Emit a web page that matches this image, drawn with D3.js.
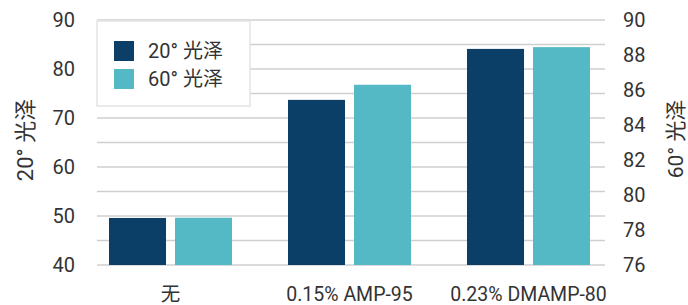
<!DOCTYPE html>
<html>
<head>
<meta charset="utf-8">
<script src="https://cdn.jsdelivr.net/npm/d3@7"></script>
<style>
  body { margin: 0; background: #fff; }
  text { font-family: Roboto, "Noto Sans CJK SC", sans-serif; fill: #333; }
</style>
</head>
<body>
<div id="chart"></div>
<script>
const categories = ['无', '0.15% AMP-95', '0.23% DMAMP-80'];
const seriesNames = ['20° 光泽', '60° 光泽'];
const gloss20 = [49.6, 73.7, 84.1];
const gloss60 = [78.7, 86.3, 88.45];
const leftTicks = [40, 50, 60, 70, 80, 90];
const rightTicks = [76, 78, 80, 82, 84, 86, 88, 90];
const gridTicks = [40, 45, 50, 55, 60, 65, 70, 75, 80, 85, 90];
const colors = ['#0c3f68', '#55b9c5'];

const W = 688, H = 305;
const plot = {left: 97, right: 605, top: 20, bottom: 265};

let svg = d3.select('#chart').append('svg')
  .attr('width', W)
  .attr('height', H);

let yLeft = d3.scaleLinear().domain([40, 90]).range([plot.bottom, plot.top]);
let yRight = d3.scaleLinear().domain([76, 90]).range([plot.bottom, plot.top]);

let x0 = d3.scaleBand().domain(categories).range([81, 618])
  .paddingInner(56 / 179).paddingOuter(28 / 179);
let x1 = d3.scaleBand().domain(seriesNames).range([0, x0.bandwidth()])
  .paddingInner(0.136);

// gridlines
svg.append('g').selectAll('line')
  .data(gridTicks)
  .join('line')
  .attr('x1', plot.left).attr('x2', plot.right)
  .attr('y1', d => yLeft(d)).attr('y2', d => yLeft(d))
  .style('stroke', '#cfcfcf')
  .style('stroke-width', 1.5);

// bars
let rows = categories.map((c, i) => ({cat: c, vals: [gloss20[i], gloss60[i]]}));
let groups = svg.append('g').selectAll('g')
  .data(rows)
  .join('g')
  .attr('transform', d => `translate(${x0(d.cat)},0)`);

groups.selectAll('rect')
  .data(d => d.vals.map((v, j) => ({name: seriesNames[j], v: v, j: j})))
  .join('rect')
  .attr('x', d => x1(d.name))
  .attr('width', x1.bandwidth())
  .attr('y', d => d.j === 0 ? yLeft(d.v) : yRight(d.v))
  .attr('height', d => plot.bottom - (d.j === 0 ? yLeft(d.v) : yRight(d.v)))
  .style('fill', d => colors[d.j]);

// left axis
let leftAxis = svg.append('g')
  .attr('transform', `translate(${plot.left - 22},0)`)
  .call(d3.axisLeft(yLeft).tickValues(leftTicks).tickSize(0).tickPadding(0));
leftAxis.select('.domain').remove();
leftAxis.selectAll('text').style('font-size', '20px').style('fill', '#333')
  .attr('font-family', null);

// right axis
let rightAxis = svg.append('g')
  .attr('transform', `translate(${plot.right + 18},0)`)
  .call(d3.axisRight(yRight).tickValues(rightTicks).tickSize(0).tickPadding(0));
rightAxis.select('.domain').remove();
rightAxis.selectAll('text').style('font-size', '20px').style('fill', '#333')
  .attr('font-family', null);

// category labels
svg.append('g').selectAll('text')
  .data(categories)
  .join('text')
  .attr('x', d => x0(d) + x0.bandwidth() / 2)
  .attr('y', 301)
  .attr('text-anchor', 'middle')
  .style('font-size', '19.5px')
  .text(d => d);

// axis titles
svg.append('text')
  .attr('transform', `translate(33, 140) rotate(-90)`)
  .attr('text-anchor', 'middle')
  .style('font-size', '22px')
  .text(seriesNames[0]);
svg.append('text')
  .attr('transform', `translate(683, 139) rotate(-90)`)
  .attr('text-anchor', 'middle')
  .style('font-size', '21px')
  .text(seriesNames[1]);

// legend
let legend = svg.append('g').attr('transform', 'translate(97,21)');
legend.append('rect')
  .attr('width', 153).attr('height', 85)
  .style('fill', '#fff')
  .style('stroke', '#e3e3e3')
  .style('stroke-width', 1.5);
let items = legend.selectAll('g.item')
  .data(seriesNames)
  .join('g').attr('class', 'item')
  .attr('transform', (d, i) => `translate(17, ${20 + i * 28})`);
items.append('rect')
  .attr('width', 20).attr('height', 20)
  .style('fill', (d, i) => colors[i]);
items.append('text')
  .attr('x', 34).attr('y', 17)
  .style('font-size', '20px')
  .text(d => d);
</script>
</body>
</html>
